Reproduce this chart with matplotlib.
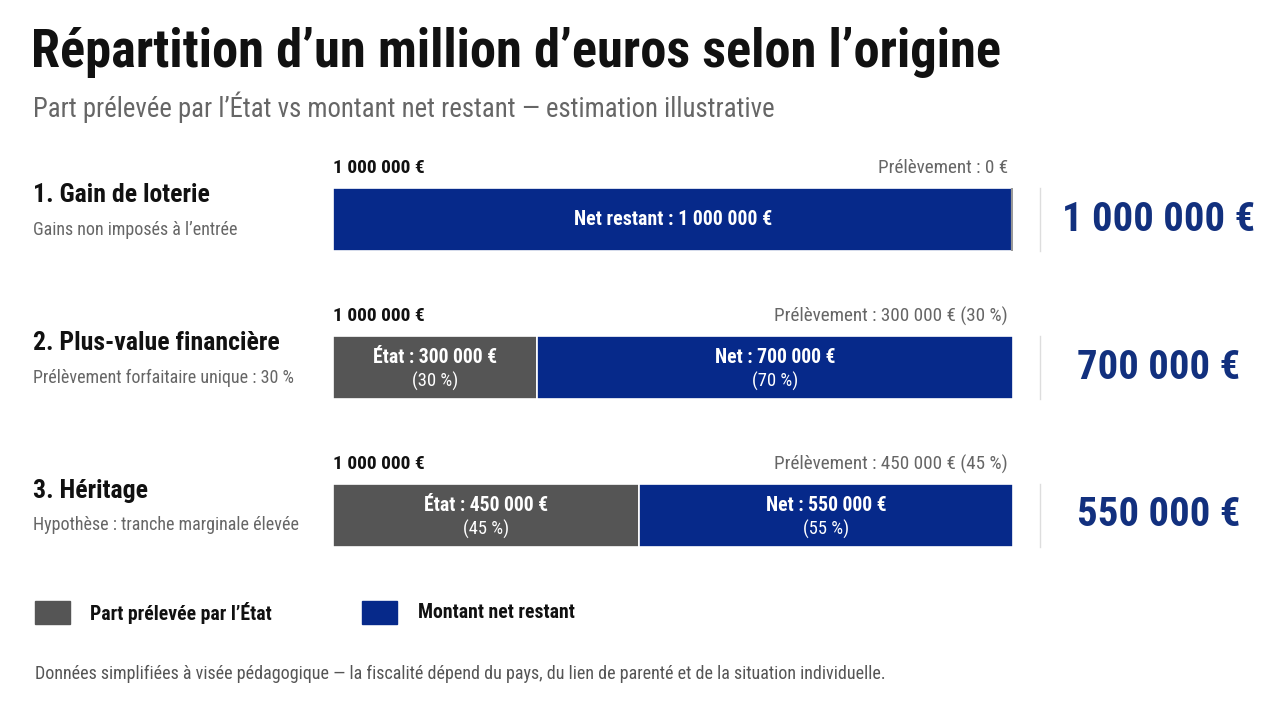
import matplotlib.pyplot as plt
import matplotlib.font_manager as fm
from matplotlib.transforms import blended_transform_factory
from matplotlib.patches import Rectangle

categories = ["1. Gain de loterie", "2. Plus-value financière", "3. Héritage"]
notes = ["Gains non imposés à l’entrée",
         "Prélèvement forfaitaire unique : 30 %",
         "Hypothèse : tranche marginale élevée"]
total = [1000000, 1000000, 1000000]
state = [0, 300000, 450000]
net = [1000000, 700000, 550000]

avail = {f.name for f in fm.fontManager.ttflist}
narrow = next((f for f in ["Roboto Condensed", "Liberation Sans Narrow",
                           "Open Sans Condensed", "Roboto"] if f in avail), "DejaVu Sans")
plt.rcParams['font.family'] = [narrow, 'DejaVu Sans']

GREY = '#555555'
BLUE = '#06298a'
NAVY = '#12307e'


def eur(v):
    return f"{v:,}".replace(",", " ") + " €"


W, H = 1280, 702
fig = plt.figure(figsize=(W / 100, H / 100), dpi=100)
fig.patch.set_facecolor('white')


def fx(x):
    return x / W


def fy(y):
    return 1 - y / H


fig.text(fx(31), fy(52), "Répartition d’un million d’euros selon l’origine",
         fontsize=37.8, fontweight='black', color='#111111', va='center')
fig.text(fx(33), fy(107), "Part prélevée par l’État vs montant net restant — estimation illustrative",
         fontsize=19.3, color='#666666', va='center')

# bar area: 148 px per row, first row centred at y=219.5
top = 145.5
ax = fig.add_axes([fx(333), fy(top + 444), 680 / W, 444 / H])
ax.set_xlim(0, 1000000)
ax.set_ylim(2.5, -0.5)
ax.axis('off')

h = 0.43
ys = range(len(categories))
ax.barh(ys, state, height=h, color=GREY, edgecolor='white', linewidth=1.2)
ax.barh(ys, net, left=state, height=h, color=BLUE, edgecolor='white', linewidth=1.2)

rowt = blended_transform_factory(fig.transFigure, ax.transData)
for i in ys:
    pct_s = round(state[i] / total[i] * 100)
    pct_n = round(net[i] / total[i] * 100)
    ax.text(0, i - h / 2 - 0.13, eur(total[i]), fontsize=14, fontweight='bold',
            color='#111111', va='center', ha='left')
    lab = "Prélèvement : " + eur(state[i]) + (f" ({pct_s} %)" if state[i] else "")
    ax.text(total[i] * 0.9926, i - h / 2 - 0.13, lab, fontsize=13.8, color='#666666',
            va='center', ha='right')
    if state[i] == 0:
        ax.vlines(total[i], i - h / 2, i + h / 2, color='#999999', lw=3)
        ax.text(net[i] / 2, i, "Net restant : " + eur(net[i]), color='white',
                fontsize=14.3, fontweight='bold', ha='center', va='center')
    else:
        ax.text(state[i] / 2, i - 0.07, "État : " + eur(state[i]), color='white',
                fontsize=14.2, fontweight='bold', ha='center', va='center')
        ax.text(state[i] / 2, i + 0.095, f"({pct_s} %)", color='white',
                fontsize=13.4, ha='center', va='center')
        ax.text(state[i] + net[i] / 2, i - 0.07, "Net : " + eur(net[i]), color='white',
                fontsize=14.2, fontweight='bold', ha='center', va='center')
        ax.text(state[i] + net[i] / 2, i + 0.095, f"({pct_n} %)", color='white',
                fontsize=13.4, ha='center', va='center')

    # left labels
    ax.text(fx(33), i - 25 / 148, categories[i], transform=rowt, fontsize=18.5,
            fontweight='bold', color='#111111', va='center', ha='left')
    ax.text(fx(33), i + 10 / 148, notes[i], transform=rowt, fontsize=13,
            color='#666666', va='center', ha='left')

    # right big value
    ax.plot([fx(1040), fx(1040)], [i - h / 2, i + h / 2], transform=rowt,
            color='#dddddd', lw=1, clip_on=False)
    ax.text(fx(1159), i, eur(net[i]), transform=rowt, fontsize=29.3,
            fontweight='black', color=NAVY, va='center', ha='center')

# legend
fig.patches.append(Rectangle((fx(35), fy(624)), 35 / W, 23 / H, color=GREY,
                             transform=fig.transFigure))
fig.text(fx(90), fy(613), "Part prélevée par l’État", fontsize=14.2, fontweight='bold',
         color='#111111', va='center')
fig.patches.append(Rectangle((fx(362), fy(624)), 35 / W, 23 / H, color=BLUE,
                             transform=fig.transFigure))
fig.text(fx(418), fy(613), "Montant net restant", fontsize=14.2, fontweight='bold',
         color='#111111', va='center')

fig.text(fx(35), fy(674), "Données simplifiées à visée pédagogique — la fiscalité dépend du pays, "
         "du lien de parenté et de la situation individuelle.",
         fontsize=13, color='#555555', va='center')

fig.savefig('out.png', dpi=100, facecolor='white')
